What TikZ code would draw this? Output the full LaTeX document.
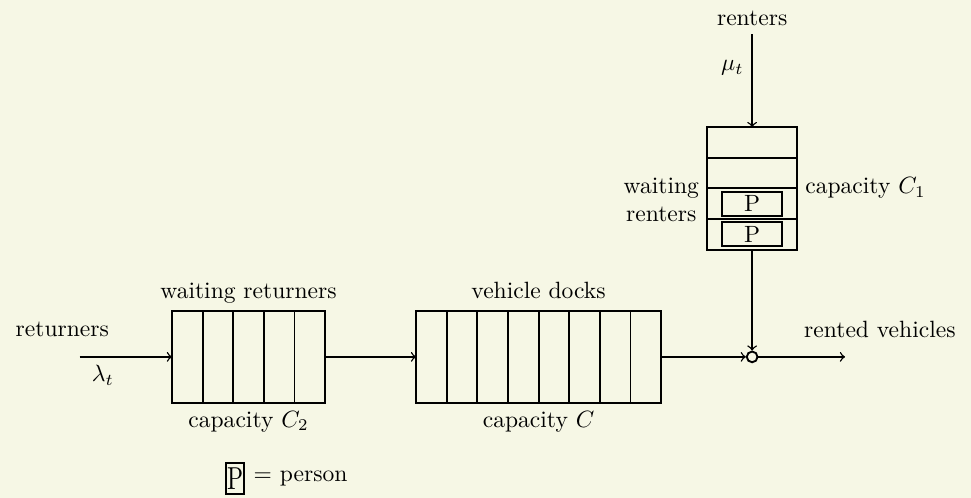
\documentclass[tikz,border=0pt]{standalone}
\usepackage{tikz}
\usetikzlibrary{arrows, positioning}

\definecolor{pagebg}{RGB}{246,247,229}
\tikzset{
  queue/.style={draw, thick, minimum height=1.371cm, inner sep=0pt, outer sep=0pt},
  flow/.style={->, semithick},
  person/.style={draw, thick, minimum width=0.9cm, minimum height=0.36cm, inner sep=0pt},
  qlabel/.style={text depth=1.94pt},
}

\begin{document}
\begin{tikzpicture}
\fill[pagebg] (0,0) rectangle (14.49,7.43);
\useasboundingbox (0,0) rectangle (14.49,7.43);
% returners side
\node (ret) at (0.93,2.51) {returners};
\coordinate (retin) at (1.19,2.104);
\node[queue, minimum width=2.285cm] (wr) at (3.709,2.104) {};
\foreach \i in {1,...,4}
  \draw[thick] ([xshift=\i*0.457cm]wr.south west) -- ([xshift=\i*0.457cm]wr.north west);
\node [qlabel, above=0pt of wr] (wrtop) {waiting returners};
\node [below=0pt of wr] (wrcap) {capacity $C_2$};
\draw[flow] (retin) -- node[below, pos=0.25] (lam) {$\lambda_t$} (wr.west);
% docks
\node[queue, minimum width=3.656cm] (docks) at (8.037,2.104) {};
\foreach \i in {1,...,7}
  \draw[thick] ([xshift=\i*0.457cm]docks.south west) -- ([xshift=\i*0.457cm]docks.north west);
\node [qlabel, above=0pt of docks] (dockstop) {vehicle docks};
\node [below=0pt of docks] (dockscap) {capacity $C$};
\draw[flow] (wr.east) -- (docks.west);
% renters side
\node (rent) at (11.224,7.15) {renters};
\node[queue, minimum width=1.34cm, minimum height=1.828cm] (wren) at (11.224,4.619) {};
\foreach \i in {1,...,3}
  \draw[thick] ([yshift=\i*0.457cm]wren.south west) -- ([yshift=\i*0.457cm]wren.south east);
\node[person] (p1) at (11.224,3.934) {P};
\node[person] (p2) at (11.224,4.391) {P};
\node [left=0pt of wren, yshift=-0.17cm, align=center] (wrenlab) {waiting\\renters};
\node [right=0pt of wren] (wrencap) {capacity $C_1$};
\draw[flow] (rent.south) -- node[left, pos=0.36] (mu) {$\mu_t$} (wren.north);
% matching point
\node[draw, thick, circle, minimum size=0.16cm, inner sep=0pt] (match) at (11.224,2.104) {};
\draw[flow] (docks.east) -- (match.west);
\draw[flow] (wren.south) -- (match.north);
\coordinate (rentout) at (12.61,2.104);
\draw[flow] (match.east) -- (rentout);
\node (rented) at (13.13,2.51) {rented vehicles};
% legend
\node[draw, thick, minimum height=0.46cm, inner xsep=0.5pt, inner ysep=0pt] (legp) at (3.51,0.29) {\scalebox{1}[1.35]{P}};
\node [right=0pt of legp] (legtxt) {$=$ person};
\end{tikzpicture}
\end{document}
